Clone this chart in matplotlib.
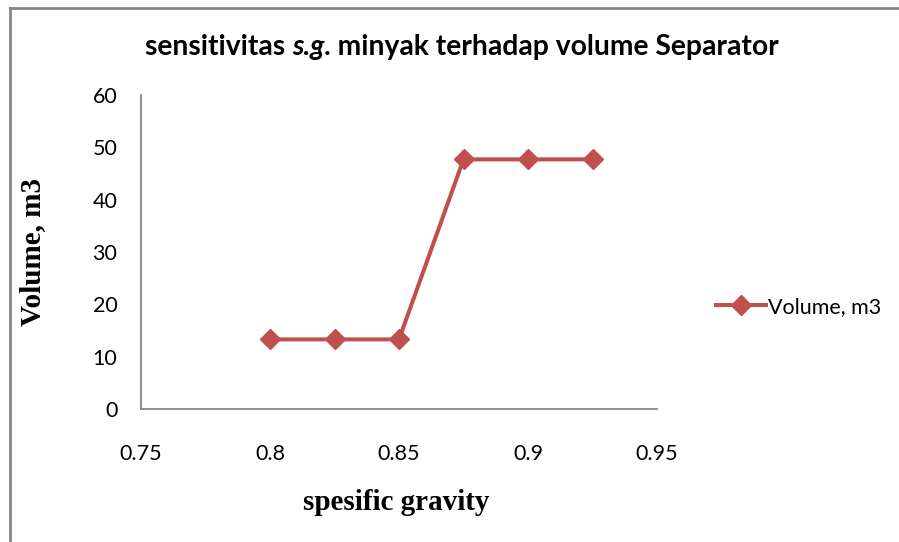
import matplotlib.pyplot as plt
from matplotlib.lines import Line2D

# data
sg = [0.8, 0.825, 0.85, 0.875, 0.9, 0.925]
volume = [13.3, 13.3, 13.3, 47.7, 47.7, 47.7]
x_ticks = [0.75, 0.8, 0.85, 0.9, 0.95]
y_ticks = [0, 10, 20, 30, 40, 50, 60]

red = '#C0504D'
gray = '#868686'

fig = plt.figure(figsize=(8.99, 5.42), dpi=100)
ax = fig.add_axes([141/899, 1 - 409/542, (657 - 141)/899, (409 - 95)/542])

ax.plot(sg, volume, color=red, linewidth=2.9, marker='D', markersize=10,
        label='Volume, m3')

ax.set_xlim(0.75, 0.95)
ax.set_ylim(0, 60)
ax.set_xticks(x_ticks)
ax.set_xticklabels(['0.75', '0.8', '0.85', '0.9', '0.95'])
ax.set_yticks(y_ticks)
ax.tick_params(length=0, labelsize=15.5)
ax.tick_params(axis='x', pad=25)
ax.tick_params(axis='y', pad=17)
for lab in ax.get_xticklabels() + ax.get_yticklabels():
    lab.set_family('Lato')

for s in ['top', 'right']:
    ax.spines[s].set_visible(False)
for s in ['left', 'bottom']:
    ax.spines[s].set_color(gray)
    ax.spines[s].set_linewidth(1.3)

# axis labels (serif, bold)
fig.text(33/899, 1 - 252/542, 'Volume, m3', rotation=90, ha='center', va='center',
         family='Liberation Serif', fontweight='bold', fontsize=21)
fig.text(396/899, 1 - 502/542, 'spesific gravity', ha='center', va='center',
         family='Liberation Serif', fontweight='bold', fontsize=21)

# title with italic "s.g."
fig.canvas.draw()
renderer = fig.canvas.get_renderer()
pieces = [('sensitivitas ', 'normal'), ('s.g', 'italic'),
          ('. minyak terhadap volume Separator', 'normal')]
texts = []
for txt, style in pieces:
    t = fig.text(0, 1 - 47/542, txt, family='Lato', fontweight='bold',
                 style=style, fontsize=20.3, va='center', ha='left')
    texts.append(t)
widths = [t.get_window_extent(renderer).width for t in texts]
x0 = 462 - sum(widths) / 2
for t, w in zip(texts, widths):
    t.set_x(x0 / 899)
    x0 += w

# legend
handle = Line2D([], [], color=red, linewidth=2.9, marker='D', markersize=10)
fig.legend([handle], ['Volume, m3'], loc='center left',
           bbox_to_anchor=(697/899, 1 - 307/542), frameon=False,
           prop={'family': 'Lato', 'size': 15.5}, handlelength=2.3,
           handletextpad=0.1)

# partial frame of the chart area
fig.add_artist(Line2D([10/899, 10/899], [0, 1 - 8/542], color=gray, linewidth=2,
                      transform=fig.transFigure))
fig.add_artist(Line2D([10/899, 1], [1 - 8/542, 1 - 8/542], color=gray, linewidth=2,
                      transform=fig.transFigure))

fig.savefig('out.png', dpi=100)
